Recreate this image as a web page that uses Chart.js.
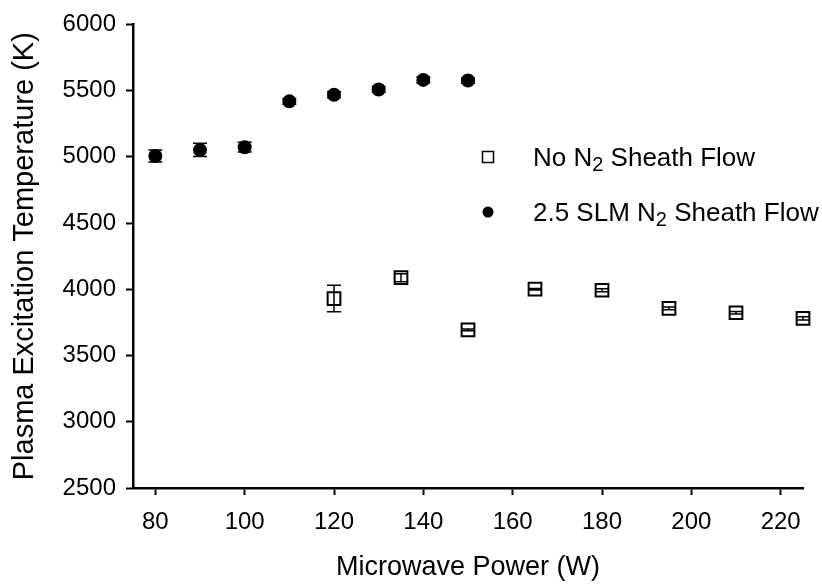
<!DOCTYPE html>
<html>
<head>
<meta charset="utf-8">
<script src="https://cdn.jsdelivr.net/npm/chart.js@4.4.0/dist/chart.umd.min.js"></script>
<style>
  html, body { margin: 0; padding: 0; background: #fff; }
  #wrap { width: 822px; height: 586px; }
</style>
</head>
<body>
<div id="wrap"><canvas id="chart" width="822" height="586"></canvas></div>
<script>
// Data
const powerNoSheath = [120, 135, 150, 165, 180, 195, 210, 225];
const tempNoSheath = [3930, 4088, 3694, 4001, 3993, 3856, 3823, 3781];
const errNoSheath = [100, 30, 6, 6, 12, 10, 10, 12];

const powerSheath = [80, 90, 100, 110, 120, 130, 140, 150];
const tempSheath = [5007, 5052, 5073, 5419, 5469, 5509, 5581, 5576];
const errSheath = [45, 50, 37, 22, 22, 22, 22, 20];

const xTicks = [80, 100, 120, 140, 160, 180, 200, 220];
const yTicks = [2500, 3000, 3500, 4000, 4500, 5000, 5500, 6000];

const legendLabels = [
    ['No N', '2', ' Sheath Flow'],
    ['2.5 SLM N', '2', ' Sheath Flow']
];

const FONT = '"Liberation Sans", Arial, sans-serif';

function toPoints(xs, ys) {
    return xs.map((x, i) => ({ x: x, y: ys[i] }));
}

// Error bars drawn on top of markers
const errorBars = {
    id: 'errorBars',
    afterDatasetsDraw(chart) {
        const ctx = chart.ctx;
        const yScale = chart.scales.y;
        chart.data.datasets.forEach((ds, di) => {
            const meta = chart.getDatasetMeta(di);
            ctx.save();
            ctx.strokeStyle = '#000';
            ctx.lineWidth = 1.5;
            meta.data.forEach((pt, i) => {
                const v = ds.data[i].y;
                const e = ds.errors[i];
                const yTop = yScale.getPixelForValue(v + e);
                const yBot = yScale.getPixelForValue(v - e);
                const cap = 7;
                ctx.beginPath();
                ctx.moveTo(pt.x, yTop);
                ctx.lineTo(pt.x, yBot);
                ctx.moveTo(pt.x - cap, yTop);
                ctx.lineTo(pt.x + cap, yTop);
                ctx.moveTo(pt.x - cap, yBot);
                ctx.lineTo(pt.x + cap, yBot);
                ctx.stroke();
            });
            ctx.restore();
        });
    }
};

// Legend inside the plot, with subscript 2
const insideLegend = {
    id: 'insideLegend',
    afterDraw(chart) {
        const ctx = chart.ctx;
        const x0 = 488, textX = 533;
        const rows = [157, 212];
        ctx.save();
        ctx.fillStyle = '#000';
        ctx.strokeStyle = '#000';
        // square marker
        ctx.lineWidth = 1.5;
        ctx.strokeRect(x0 - 5.5, rows[0] - 5.5, 11, 11);
        // circle marker
        ctx.beginPath();
        ctx.arc(x0, rows[1], 5.5, 0, Math.PI * 2);
        ctx.fill();

        ctx.textBaseline = 'alphabetic';
        ctx.textAlign = 'left';
        legendLabels.forEach((parts, i) => {
            const base = rows[i] + 9;
            let x = textX;
            ctx.font = '26px ' + FONT;
            ctx.fillText(parts[0], x, base);
            x += ctx.measureText(parts[0]).width;
            ctx.font = '20px ' + FONT;
            ctx.fillText(parts[1], x, base + 5);
            x += ctx.measureText(parts[1]).width;
            ctx.font = '26px ' + FONT;
            ctx.fillText(parts[2], x, base);
        });
        ctx.restore();
    }
};

new Chart(document.getElementById('chart'), {
    type: 'scatter',
    data: {
        datasets: [
            {
                label: 'No N2 Sheath Flow',
                data: toPoints(powerNoSheath, tempNoSheath),
                errors: errNoSheath,
                pointStyle: 'rect',
                pointRadius: 9,
                borderWidth: 2,
                borderColor: '#000',
                backgroundColor: 'rgba(255,255,255,0)',
                clip: false
            },
            {
                label: '2.5 SLM N2 Sheath Flow',
                data: toPoints(powerSheath, tempSheath),
                errors: errSheath,
                pointStyle: 'circle',
                pointRadius: 7,
                borderWidth: 0,
                borderColor: '#000',
                backgroundColor: '#000',
                clip: false
            }
        ]
    },
    options: {
        responsive: false,
        animation: false,
        events: [],
        layout: { padding: { left: 0, right: 19, top: 20, bottom: 0 } },
        plugins: {
            legend: { display: false },
            tooltip: { enabled: false }
        },
        scales: {
            x: {
                type: 'linear',
                min: 75,
                max: 225,
                afterBuildTicks: (scale) => { scale.ticks = xTicks.map(v => ({ value: v })); },
                afterFit: (scale) => { scale.height = 98; },
                grid: {
                    drawOnChartArea: false,
                    drawTicks: true,
                    tickLength: 7,
                    tickWidth: 2,
                    tickColor: '#000'
                },
                border: { color: '#000', width: 2.5 },
                ticks: {
                    color: '#000',
                    padding: 13,
                    maxRotation: 0,
                    callback: (v) => String(v),
                    font: { family: FONT, size: 24 }
                },
                title: {
                    display: true,
                    text: 'Microwave Power (W)',
                    color: '#000',
                    padding: { top: 2, bottom: 2 },
                    font: { family: FONT, size: 27 }
                }
            },
            y: {
                type: 'linear',
                min: 2500,
                max: 6000,
                afterBuildTicks: (scale) => { scale.ticks = yTicks.map(v => ({ value: v })); },
                afterFit: (scale) => { scale.width = 133; },
                grid: {
                    drawOnChartArea: false,
                    drawTicks: true,
                    tickLength: 7,
                    tickWidth: 2,
                    tickColor: '#000'
                },
                border: { color: '#000', width: 2.5 },
                ticks: {
                    color: '#000',
                    padding: 10,
                    callback: (v) => String(v),
                    font: { family: FONT, size: 24 }
                },
                title: {
                    display: true,
                    text: 'Plasma Excitation Temperature (K)',
                    color: '#000',
                    padding: { top: 8, bottom: 8 },
                    font: { family: FONT, size: 29 }
                }
            }
        }
    },
    plugins: [errorBars, insideLegend]
});
</script>
</body>
</html>
